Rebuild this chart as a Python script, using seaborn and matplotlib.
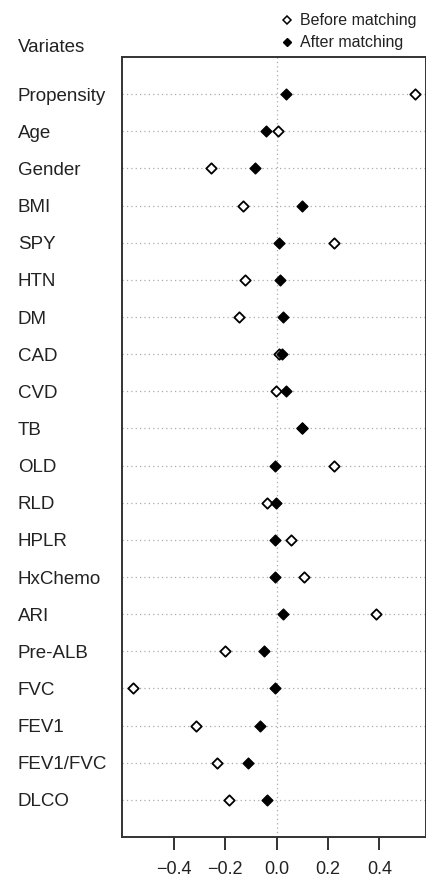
import matplotlib
matplotlib.use('Agg')
import matplotlib.pyplot as plt
import seaborn as sns
import pandas as pd
import numpy as np

variates = ['Propensity', 'Age', 'Gender', 'BMI', 'SPY', 'HTN', 'DM', 'CAD', 'CVD', 'TB',
            'OLD', 'RLD', 'HPLR', 'HxChemo', 'ARI', 'Pre-ALB', 'FVC', 'FEV1', 'FEV1/FVC', 'DLCO']
before = [0.537, 0.006, -0.255, -0.129, 0.225, -0.124, -0.148, 0.010, -0.001, 0.098,
          0.225, -0.039, 0.055, 0.107, 0.386, -0.201, -0.557, -0.313, -0.231, -0.184]
after = [0.035, -0.043, -0.084, 0.100, 0.008, 0.013, 0.025, 0.020, 0.037, 0.100,
         -0.006, -0.004, -0.008, -0.006, 0.025, -0.047, -0.005, -0.064, -0.113, -0.039]

df = pd.DataFrame({'variate': variates, 'pos': np.arange(len(variates)),
                   'before': before, 'after': after})

sns.set_style('white')
plt.rcParams['font.family'] = ['Liberation Sans', 'DejaVu Sans']
text_col = '#222222'

fig = plt.figure(figsize=(4.27, 8.76), dpi=100, facecolor='white')
ax = fig.add_axes([122 / 427, 1 - 837 / 876, (426 - 122) / 427, (837 - 57) / 876])

# Dotted guide lines
for p in df['pos']:
    ax.axhline(p, color='#aaaaaa', linestyle=(0, (1, 2.5)), linewidth=0.9, zorder=0)
ax.axvline(0, color='#aaaaaa', linestyle=(0, (1, 2.5)), linewidth=0.9, zorder=0)

sns.scatterplot(data=df, x='before', y='pos', marker='D', s=28, color='white',
                edgecolor='black', linewidth=1.3, ax=ax, zorder=3)
sns.scatterplot(data=df, x='after', y='pos', marker='D', s=30, color='black',
                edgecolor='black', linewidth=1.0, ax=ax, zorder=4)

ax.set_xlim(-0.601, 0.581)
ax.set_ylim(len(variates), -1)
ax.set_xlabel('')
ax.set_ylabel('')

ax.set_xticks([-0.4, -0.2, 0.0, 0.2, 0.4])
ax.set_xticklabels(['\u22120.4', '\u22120.2', '0.0', '0.2', '0.4'])
ax.tick_params(axis='x', direction='out', length=9, width=1.3, color='#222222',
               labelsize=13, labelcolor=text_col, pad=8, bottom=True)
ax.set_yticks(df['pos'])
ax.set_yticklabels(df['variate'])
ax.tick_params(axis='y', length=0, pad=75, labelsize=13.5, labelcolor=text_col)
for lab in ax.get_yticklabels():
    lab.set_ha('left')

for sp in ax.spines.values():
    sp.set_visible(True)
    sp.set_color('#333333')
    sp.set_linewidth(1.4)

fig.text(18 / 427, 1 - 48 / 876, 'Variates', fontsize=13.5, color=text_col,
         ha='left', va='center')

# Legend
fig.text(300 / 427, 1 - 20 / 876, 'Before matching', fontsize=11.5, color=text_col,
         ha='left', va='center')
fig.text(300 / 427, 1 - 42 / 876, 'After matching', fontsize=11.5, color=text_col,
         ha='left', va='center')
fig.lines.append(plt.Line2D([287 / 427], [1 - 20 / 876], transform=fig.transFigure,
                            marker='D', markersize=4.5, markerfacecolor='white',
                            markeredgecolor='black', markeredgewidth=1.1, linestyle=''))
fig.lines.append(plt.Line2D([287 / 427], [1 - 42 / 876], transform=fig.transFigure,
                            marker='D', markersize=4.5, markerfacecolor='black',
                            markeredgecolor='black', linestyle=''))

plt.savefig('out.png', dpi=100, facecolor='white')
